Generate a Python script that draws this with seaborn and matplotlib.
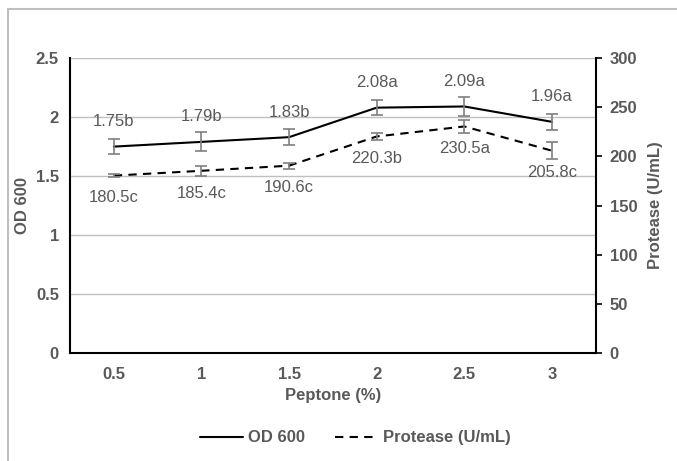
#--OD 600 and protease vs peptone, dual axis line chart--#
import seaborn as sns
import pandas as pd
import matplotlib.pyplot as plt
from matplotlib.lines import Line2D
from matplotlib.patches import Rectangle

#--Data--#
peptone = ['0.5', '1', '1.5', '2', '2.5', '3']
od600 = [1.75, 1.79, 1.83, 2.08, 2.09, 1.96]
od_err = [0.063, 0.08, 0.068, 0.065, 0.08, 0.07]
od_letters = ['b', 'b', 'b', 'a', 'a', 'a']
protease = [180.5, 185.4, 190.6, 220.3, 230.5, 205.8]
prot_err = [1.5, 4.8, 3.0, 3.8, 7.0, 8.5]
prot_letters = ['c', 'c', 'c', 'b', 'a', 'c']

df = pd.DataFrame({'peptone': peptone, 'od': od600, 'protease': protease})

sns.set_style('white')
plt.rcParams['font.family'] = ['Liberation Sans', 'DejaVu Sans']
grey = '#595959'
ebar = '#7f7f7f'
fs = 12

fig = plt.figure(figsize=(6.77, 4.61), dpi=100)
ax = fig.add_axes([0.1034, 0.234, 0.7766, 0.640])
ax2 = ax.twinx()

#--Lines--#
sns.lineplot(data=df, x='peptone', y='od', sort=False, ax=ax, color='black', lw=1.5)
sns.lineplot(data=df, x='peptone', y='protease', sort=False, ax=ax2, color='black',
             lw=1.5, linestyle=(0, (4, 3)))
ax.errorbar(peptone, od600, yerr=od_err, fmt='none', ecolor=ebar, elinewidth=1.2,
            capsize=4, capthick=1.2)
ax2.errorbar(peptone, protease, yerr=prot_err, fmt='none', ecolor=ebar, elinewidth=1.2,
             capsize=4, capthick=1.2)

#--Data labels--#
for i, (v, l) in enumerate(zip(od600, od_letters)):
    ax.annotate(f'{v:.2f}{l}', (i, v), xytext=(0, 18), textcoords='offset points',
                ha='center', va='center', fontsize=fs, color=grey)
for i, (v, l) in enumerate(zip(protease, prot_letters)):
    ax2.annotate(f'{v:.1f}{l}', (i, v), xytext=(0, -16), textcoords='offset points',
                 ha='center', va='center', fontsize=fs, color=grey)

#--Axes style--#
ax.set_xlim(-0.5, 5.5)
ax.set_ylim(0, 2.5)
ax.set_yticks([0, 0.5, 1, 1.5, 2, 2.5])
ax.set_yticklabels(['0', '0.5', '1', '1.5', '2', '2.5'])
ax2.set_ylim(0, 300)
ax2.set_yticks(range(0, 301, 50))
ax.yaxis.grid(True, color='#c0c0c0', lw=1)
ax.set_axisbelow(True)

for a in (ax, ax2):
    for s in a.spines.values():
        s.set_visible(False)
ax.spines['left'].set_visible(True)
ax.spines['bottom'].set_visible(True)
ax2.spines['right'].set_visible(True)
for s in (ax.spines['left'], ax.spines['bottom'], ax2.spines['right']):
    s.set_color('black')
    s.set_linewidth(1.5)

ax.tick_params(axis='y', length=0, pad=8, labelsize=fs, labelcolor=grey)
ax.tick_params(axis='x', length=0, pad=10, labelsize=fs, labelcolor=grey)
ax2.tick_params(axis='y', length=4, width=1.2, color='black', pad=6, labelsize=fs,
                labelcolor=grey)
for lab in ax.get_xticklabels() + ax.get_yticklabels() + ax2.get_yticklabels():
    lab.set_fontweight('bold')

ax.set_xlabel('Peptone (%)', fontsize=fs, fontweight='bold', color=grey, labelpad=4)
ax.set_ylabel('OD 600', fontsize=fs, fontweight='bold', color=grey, labelpad=4)
ax2.set_ylabel('Protease (U/mL)', fontsize=fs, fontweight='bold', color=grey, labelpad=8)

#--Legend--#
handles = [Line2D([], [], color='black', lw=1.5),
           Line2D([], [], color='black', lw=1.5, linestyle=(0, (4, 3)))]
leg = fig.legend(handles, ['OD 600', 'Protease (U/mL)'], loc='center',
                 bbox_to_anchor=(0.525, 0.05), ncol=2, frameon=False, handlelength=2.6,
                 handletextpad=0.3, columnspacing=1.8, prop={'size': fs, 'weight': 'bold'})
for t in leg.get_texts():
    t.set_color(grey)

#--Outer frame--#
fig.patches.append(Rectangle((8 / 677, -0.1), 1.2, 1 - 9 / 461 + 0.1,
                             transform=fig.transFigure, fill=False,
                             edgecolor='#bfbfbf', lw=1.5))

fig.savefig('out.png', dpi=100)
